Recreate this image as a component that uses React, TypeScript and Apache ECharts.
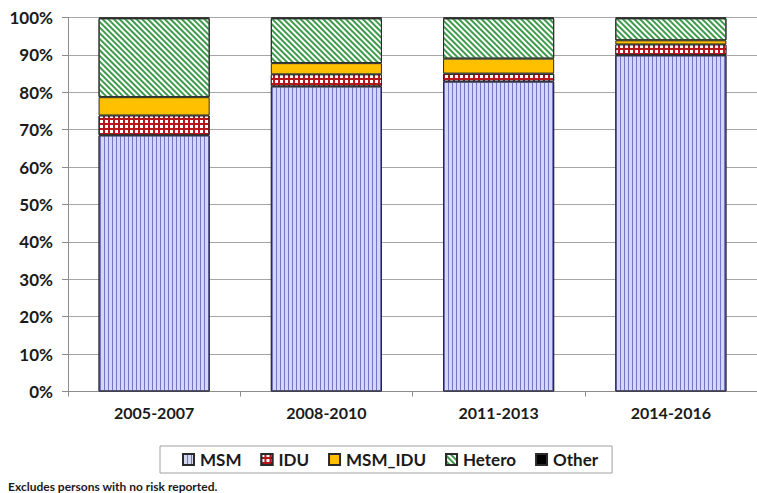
import React, { useEffect, useRef } from "react";
import * as echarts from "echarts";

const categories = ["2005-2007", "2008-2010", "2011-2013", "2014-2016"];
const msm = [68.5, 81.6, 82.9, 89.9];
const idu = [5.3, 3.2, 2.1, 2.9];
const msmIdu = [4.9, 3.0, 4.0, 1.1];
const hetero = [21.1, 12.0, 10.8, 5.9];
const other = [0.2, 0.2, 0.2, 0.2];
const yTicks = [0, 10, 20, 30, 40, 50, 60, 70, 80, 90, 100];
const footnote = "Excludes persons with no risk reported.";

const FONT = "Lato, 'Liberation Sans', sans-serif";

export default function App() {
  const ref = useRef<HTMLDivElement>(null);
  useEffect(() => {
    if (!ref.current) return;
    const chart = echarts.init(ref.current, undefined, { renderer: "svg" });
    const border = { borderColor: "#2a2a2a", borderWidth: 1 };
    const mk = (name: string, data: number[], itemStyle: any) => ({
      name,
      type: "bar",
      stack: "total",
      data,
      barWidth: "64.5%",
      itemStyle: { ...border, ...itemStyle },
    });
    chart.setOption({
      animation: false,
      backgroundColor: "#ffffff",
      grid: { left: 68, top: 17.5, width: 695, height: 374, containLabel: false },
      xAxis: {
        type: "category",
        data: categories,
        axisLine: { lineStyle: { color: "#8c8c8c", width: 1 } },
        axisTick: { show: true, length: 5, lineStyle: { color: "#8c8c8c" } },
        axisLabel: {
          fontFamily: FONT,
          fontWeight: "bold",
          fontSize: 16,
          color: "#1a1a1a",
          margin: 13,
        },
      },
      yAxis: {
        type: "value",
        min: 0,
        max: 100,
        interval: 10,
        axisLine: { show: true, lineStyle: { color: "#8c8c8c", width: 1 } },
        axisTick: { show: true, length: 6, lineStyle: { color: "#8c8c8c" } },
        splitLine: { lineStyle: { color: "#a6a6a6", width: 1 } },
        axisLabel: {
          fontFamily: FONT,
          fontWeight: "bold",
          fontSize: 17,
          color: "#1a1a1a",
          margin: 15,
          customValues: yTicks,
          formatter: (v: number) => v + "%",
        },
      },
      legend: {
        bottom: 20,
        left: 160,
        height: 28,
        padding: [5, 14, 5, 22],
        borderColor: "#a0a0a0",
        borderWidth: 1,
        itemWidth: 11,
        itemHeight: 11,
        itemGap: 19,
        icon: "rect",
        textStyle: {
          fontFamily: FONT,
          fontWeight: "bold",
          fontSize: 17,
          color: "#1a1a1a",
          padding: [0, 0, 0, 1],
        },
        data: ["MSM", "IDU", "MSM_IDU", "Hetero", "Other"],
      },
      graphic: [
        {
          type: "text",
          left: 8,
          top: 480,
          style: {
            text: footnote,
            fontFamily: FONT,
            fontWeight: "bold",
            fontSize: 12,
            fill: "#1a1a1a",
          },
        },
      ],
      series: [
        mk("MSM", msm, {
          color: "#d4d6f2",
          decal: {
            symbol: "rect",
            symbolSize: 1,
            color: "#7276c6",
            dashArrayX: [1, 3],
            dashArrayY: [4, 0],
            rotation: 0,
          },
        }),
        mk("IDU", idu, {
          color: "#b8151b",
          decal: {
            symbol: "rect",
            symbolSize: 1,
            color: "#ffffff",
            dashArrayX: [3, 1.5],
            dashArrayY: [3, 1.5],
            rotation: 0,
          },
        }),
        mk("MSM_IDU", msmIdu, { color: "#ffc000" }),
        mk("Hetero", hetero, {
          color: "#ffffff",
          decal: {
            symbol: "rect",
            symbolSize: 1,
            color: "#3f9a4c",
            dashArrayX: [4, 0],
            dashArrayY: [1.6, 2],
            rotation: Math.PI / 4,
          },
        }),
        mk("Other", other, { color: "#000000" }),
      ],
    });
    return () => chart.dispose();
  }, []);
  return (
    <div
      ref={ref}
      style={{ position: "fixed", left: 0, top: 0, width: 757, height: 493 }}
    />
  );
}
